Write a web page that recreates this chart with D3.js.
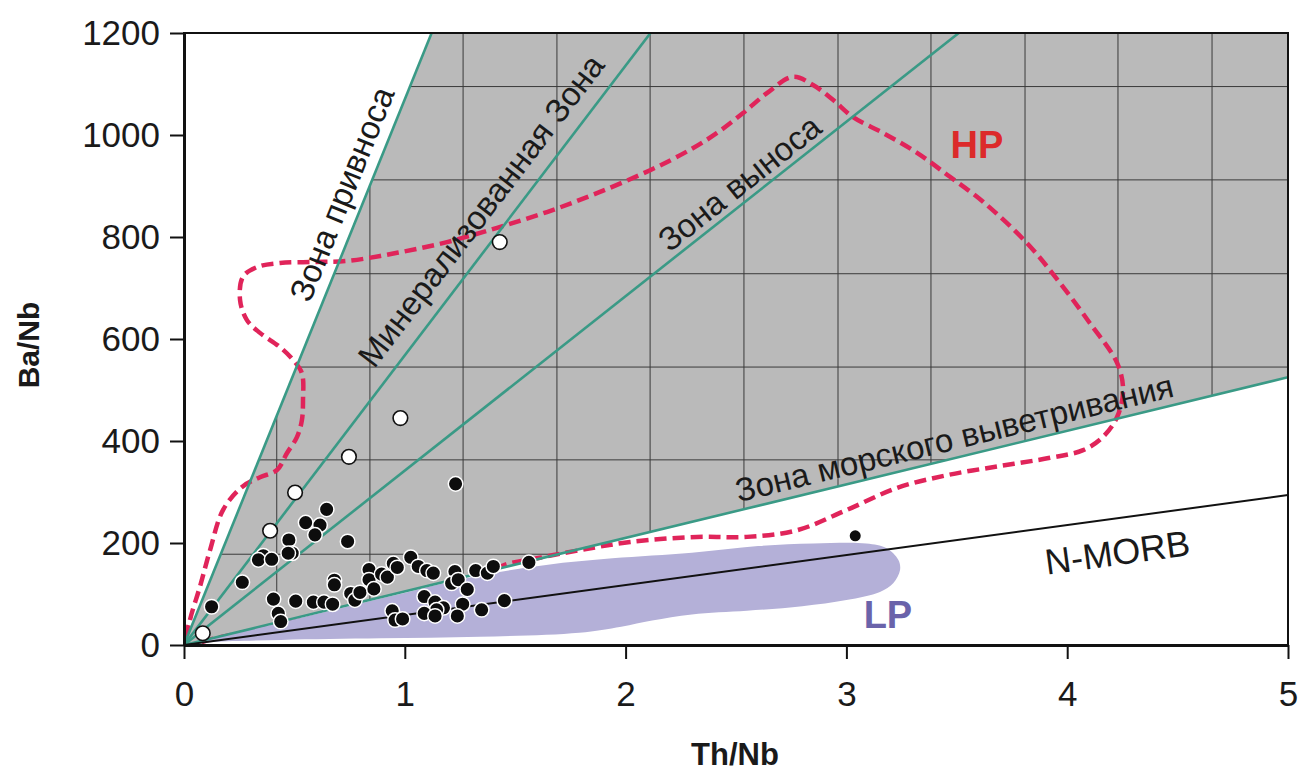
<!DOCTYPE html>
<html>
<head>
<meta charset="utf-8">
<script src="https://cdn.jsdelivr.net/npm/d3@7"></script>
<style>
  body { margin: 0; background: #fff; }
  text { font-family: "Liberation Sans", Arial, sans-serif; fill: #1a1a1a; }
  .axis text { font-size: 35px; }
  .axis path, .axis line { stroke: #111; }
</style>
</head>
<body>
<div class="container"></div>
<script>
// Ba/Nb vs Th/Nb discrimination diagram

var xTicks = [0, 1, 2, 3, 4, 5];
var yTicks = [0, 200, 400, 600, 800, 1000, 1200];

// zone boundaries through the origin, Ba/Nb per unit Th/Nb
var zoneSlopes = [1070, 568, 342, 105];
var nmorbSlope = 58.8;

// background grid of the shaded field (data units)
var gridX = [0.42, 0.842, 1.264, 1.689, 2.111, 2.536, 2.962, 3.383, 3.809, 4.230, 4.656];
var gridY = [178, 363, 545, 728, 912, 1095];

var zoneLabels = ["Зона привноса", "Минерализованная Зона", "Зона выноса", "Зона морского выветривания"];
var zoneLabelPos = [[0.763, 876], [1.386, 838], [2.548, 888], [3.501, 384]];

var filledPts = [
  [1.23, 316], [0.646, 266], [0.551, 240], [0.616, 235], [0.593, 216], [0.475, 206],
  [0.741, 203], [0.359, 175], [0.337, 167], [0.397, 168], [0.49, 180], [0.472, 180],
  [0.264, 123], [0.125, 75], [0.405, 90], [0.427, 62], [0.438, 46], [0.506, 86],
  [0.586, 84], [0.634, 84], [0.673, 80], [0.681, 127], [0.681, 118], [0.755, 101],
  [0.774, 88], [0.797, 103], [0.838, 148], [0.838, 128], [0.86, 110], [0.895, 139],
  [0.921, 133], [0.948, 160], [0.966, 152], [1.027, 172], [1.061, 154], [1.10, 146],
  [1.129, 141], [1.227, 144], [1.212, 121], [1.242, 128], [1.283, 109], [1.321, 146],
  [1.374, 141], [1.401, 154], [1.562, 162], [1.088, 95], [1.137, 84], [1.175, 73],
  [1.144, 69], [1.262, 80], [1.348, 69], [1.451, 87], [1.088, 62], [1.137, 57],
  [1.238, 57], [0.943, 67], [0.956, 49], [0.99, 51]
];
var openPts = [[1.43, 790], [0.98, 445], [0.747, 369], [0.503, 299], [0.39, 224], [0.085, 23]];
var extraPts = [[3.04, 214]];

var hpOutline = [
  [0.009, 2], [0.027, 49], [0.072, 114], [0.118, 186], [0.177, 265], [0.263, 310],
  [0.344, 329], [0.421, 343], [0.466, 376], [0.512, 408], [0.534, 441], [0.539, 480],
  [0.534, 533], [0.494, 559], [0.435, 584], [0.344, 612], [0.285, 637], [0.254, 676],
  [0.267, 722], [0.331, 741], [0.435, 749], [0.584, 751], [0.738, 753], [0.965, 769],
  [1.191, 790], [1.418, 818], [1.644, 849], [1.870, 886], [2.111, 931], [2.292, 971],
  [2.414, 1004], [2.532, 1043], [2.640, 1082], [2.758, 1114], [2.849, 1098], [2.939, 1069],
  [3.030, 1035], [3.166, 1004], [3.320, 965], [3.469, 918], [3.619, 869], [3.818, 788],
  [3.967, 710], [4.103, 631], [4.226, 553], [4.253, 500], [4.226, 447], [4.162, 408],
  [4.072, 382], [3.922, 367], [3.696, 351], [3.456, 333], [3.229, 308], [3.003, 265],
  [2.776, 225], [2.550, 212], [2.323, 212], [2.020, 202], [1.793, 186], [1.612, 171],
  [1.431, 153], [1.372, 127], [0.752, 69], [0.149, 14]
];

var lpOutline = [
  [0, 0], [0.45, 45], [0.9, 92], [1.3, 133], [1.64, 157], [1.94, 170], [2.3, 181],
  [2.6, 194], [2.85, 199], [3.09, 199], [3.18, 190], [3.235, 167], [3.243, 147],
  [3.212, 121], [3.152, 104], [3.0, 88], [2.8, 76], [2.55, 67], [2.3, 60],
  [2.12, 48], [1.98, 36], [1.79, 24], [1.34, 16], [0.89, 13], [0.44, 10], [0.13, 6]
];

var margin = {top: 33, right: 14, bottom: 127, left: 184},
  width = 1302 - margin.left - margin.right,
  height = 772 - margin.top - margin.bottom;

var svg = d3.select(".container")
  .append("svg")
    .attr("width", 1302)
    .attr("height", 772)
  .append("g")
    .attr("transform", "translate(" + margin.left + "," + margin.top + ")");

var x = d3.scaleLinear().domain([0, 5]).range([0, width]);
var y = d3.scaleLinear().domain([0, 1200]).range([height, 0]);

svg.append("clipPath").attr("id", "plotClip")
  .append("rect").attr("width", width).attr("height", height);

var plot = svg.append("g").attr("clip-path", "url(#plotClip)");

// shaded field between the steepest line and the weathering line
var steep = zoneSlopes[0], flat = zoneSlopes[3];
var field = [[0, 0], [1200 / steep, 1200], [5, 1200], [5, 5 * flat]];
var fieldLine = d3.line().x(d => x(d[0])).y(d => y(d[1]));

plot.append("clipPath").attr("id", "fieldClip")
  .append("path").attr("d", fieldLine(field) + "Z");

plot.append("path")
  .attr("d", fieldLine(field) + "Z")
  .attr("fill", "#bababa");

var grid = plot.append("g").attr("clip-path", "url(#fieldClip)");
grid.selectAll(".gx").data(gridX).enter().append("line")
  .attr("x1", d => x(d)).attr("x2", d => x(d))
  .attr("y1", 0).attr("y2", height)
  .attr("stroke", "#3a3a3a").attr("stroke-width", 1);
grid.selectAll(".gy").data(gridY).enter().append("line")
  .attr("x1", 0).attr("x2", width)
  .attr("y1", d => y(d)).attr("y2", d => y(d))
  .attr("stroke", "#3a3a3a").attr("stroke-width", 1);

var closedCurve = d3.line()
  .x(d => x(d[0])).y(d => y(d[1]))
  .curve(d3.curveCatmullRomClosed.alpha(0.5));

// HP field
plot.append("path")
  .attr("d", closedCurve(hpOutline))
  .attr("fill", "none")
  .attr("stroke", "#e0245a")
  .attr("stroke-width", 4.5)
  .attr("stroke-dasharray", "12,6");

// LP field
plot.append("path")
  .attr("d", closedCurve(lpOutline))
  .attr("fill", "#b4b0d8");

// zone lines
plot.selectAll(".zone").data(zoneSlopes).enter().append("line")
  .attr("x1", x(0)).attr("y1", y(0))
  .attr("x2", x(5)).attr("y2", d => y(5 * d))
  .attr("stroke", "#3a9a86")
  .attr("stroke-width", 2.6);

plot.append("line")
  .attr("x1", x(0)).attr("y1", y(0))
  .attr("x2", x(5)).attr("y2", y(5 * nmorbSlope))
  .attr("stroke", "#111")
  .attr("stroke-width", 2);

// samples
plot.selectAll(".filled").data(filledPts).enter().append("circle")
  .attr("cx", d => x(d[0])).attr("cy", d => y(d[1]))
  .attr("r", 7.3)
  .attr("fill", "#0d0d0d")
  .attr("stroke", "#fff")
  .attr("stroke-width", 1.5);

plot.selectAll(".open").data(openPts).enter().append("circle")
  .attr("cx", d => x(d[0])).attr("cy", d => y(d[1]))
  .attr("r", 7.3)
  .attr("fill", "#fff")
  .attr("stroke", "#111")
  .attr("stroke-width", 1.6);

plot.selectAll(".extra").data(extraPts).enter().append("circle")
  .attr("cx", d => x(d[0])).attr("cy", d => y(d[1]))
  .attr("r", 5.5)
  .attr("fill", "#0d0d0d");

// labels along the lines
function lineAngle(s) {
  return Math.atan2(y(0) - y(s), x(1) - x(0)) * 180 / Math.PI;
}

zoneLabels.forEach(function(t, i) {
  var p = zoneLabelPos[i];
  svg.append("text")
    .attr("transform", "translate(" + x(p[0]) + "," + y(p[1]) + ")rotate(" + (-lineAngle(zoneSlopes[i])) + ")")
    .attr("text-anchor", "middle")
    .style("font-size", "33px")
    .text(t);
});

svg.append("text")
  .attr("transform", "translate(" + x(4.235) + "," + y(157) + ")rotate(" + (-lineAngle(nmorbSlope)) + ")")
  .attr("text-anchor", "middle")
  .style("font-size", "36px")
  .text("N-MORB");

svg.append("text")
  .attr("x", x(3.591)).attr("y", y(955))
  .attr("text-anchor", "middle")
  .style("font-size", "38px").style("font-weight", "bold")
  .style("fill", "#dc2a2a")
  .text("HP");

svg.append("text")
  .attr("x", x(3.188)).attr("y", y(33))
  .attr("text-anchor", "middle")
  .style("font-size", "38px").style("font-weight", "bold")
  .style("fill", "#6a63aa")
  .text("LP");

// frame
svg.append("rect")
  .attr("width", width).attr("height", height)
  .attr("fill", "none").attr("stroke", "#111").attr("stroke-width", 2);

// axes
svg.append("g")
  .attr("class", "axis")
  .call(d3.axisLeft(y).tickValues(yTicks).tickFormat(d3.format("d"))
    .tickSize(14).tickSizeOuter(0).tickPadding(10))
  .call(g => g.select(".domain").attr("stroke-width", 3))
  .call(g => g.selectAll(".tick line").attr("stroke-width", 2));

svg.append("g")
  .attr("class", "axis")
  .attr("transform", "translate(0," + height + ")")
  .call(d3.axisBottom(x).tickValues(xTicks).tickFormat(d3.format("d"))
    .tickSize(14).tickSizeOuter(0).tickPadding(22))
  .call(g => g.select(".domain").attr("stroke-width", 3))
  .call(g => g.selectAll(".tick line").attr("stroke-width", 2));

svg.selectAll(".axis text").attr("fill", "#1a1a1a");

svg.append("text")
  .attr("transform", "translate(" + (39 - margin.left) + "," + (345 - margin.top) + ")rotate(-90)")
  .attr("text-anchor", "middle")
  .style("font-size", "30px").style("font-weight", "bold")
  .text("Ba/Nb");

svg.append("text")
  .attr("x", 735 - margin.left).attr("y", 765 - margin.top)
  .attr("text-anchor", "middle")
  .style("font-size", "31px").style("font-weight", "bold")
  .text("Th/Nb");
</script>
</body>
</html>
